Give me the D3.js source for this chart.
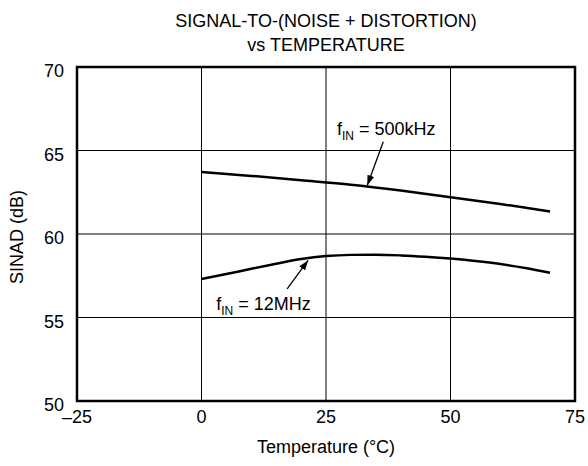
<!DOCTYPE html>
<html>
<head>
<meta charset="utf-8">
<script src="https://cdn.jsdelivr.net/npm/d3@7"></script>
<style>
  body { margin: 0; background: #fff; }
  svg { font-family: "Liberation Sans", Arial, sans-serif; }
</style>
</head>
<body>
<div id="chart"></div>
<script>
const xTicks = [-25, 0, 25, 50, 75];
const xTickLabels = ["\u201325", "0", "25", "50", "75"];
const yTicks = [50, 55, 60, 65, 70];

const temps500k = [0, 10, 20, 30, 40, 50, 60, 70];
const sinad500k = [63.72, 63.48, 63.22, 62.95, 62.6, 62.2, 61.8, 61.35];

const temps12M = [0, 5, 10, 15, 20, 25, 30, 35, 40, 45, 50, 55, 60, 65, 70];
const sinad12M = [57.3, 57.6, 57.92, 58.22, 58.5, 58.68, 58.75, 58.76, 58.72, 58.64, 58.53, 58.38, 58.2, 57.97, 57.68];

const width = 588, height = 466;
const margin = {top: 67, right: 13, bottom: 65, left: 77};

const x = d3.scaleLinear()
    .domain([-25, 75])
    .range([margin.left, width - margin.right]);

const y = d3.scaleLinear()
    .domain([50, 70])
    .range([height - margin.bottom, margin.top]);

const svg = d3.select("#chart")
    .append("svg")
    .attr("width", width)
    .attr("height", height);

const defs = svg.append("defs");
defs.append("marker")
    .attr("id", "arrow")
    .attr("viewBox", "0 0 10 10")
    .attr("refX", 10)
    .attr("refY", 5)
    .attr("markerWidth", 10)
    .attr("markerHeight", 10)
    .attr("markerUnits", "userSpaceOnUse")
    .attr("orient", "auto")
  .append("path")
    .attr("d", "M0,1.5 L10,5 L0,8.5 Z")
    .attr("fill", "#000");

// grid
svg.append("g")
  .selectAll("line")
  .data(xTicks.slice(1, -1))
  .join("line")
    .attr("x1", d => x(d)).attr("x2", d => x(d))
    .attr("y1", y(50)).attr("y2", y(70))
    .attr("stroke", "#000").attr("stroke-width", 1);

svg.append("g")
  .selectAll("line")
  .data(yTicks.slice(1, -1))
  .join("line")
    .attr("x1", x(-25)).attr("x2", x(75))
    .attr("y1", d => y(d)).attr("y2", d => y(d))
    .attr("stroke", "#000").attr("stroke-width", 1);

// frame
svg.append("rect")
    .attr("x", x(-25))
    .attr("y", y(70))
    .attr("width", x(75) - x(-25))
    .attr("height", y(50) - y(70))
    .attr("fill", "none")
    .attr("stroke", "#000")
    .attr("stroke-width", 2.5);

// tick labels
svg.append("g")
    .attr("font-size", 18)
    .attr("text-anchor", "middle")
  .selectAll("text")
  .data(xTicks)
  .join("text")
    .attr("x", d => x(d))
    .attr("y", y(50) + 22)
    .text((d, i) => xTickLabels[i]);

svg.append("g")
    .attr("font-size", 18)
    .attr("text-anchor", "end")
  .selectAll("text")
  .data(yTicks)
  .join("text")
    .attr("x", x(-25) - 13)
    .attr("y", d => y(d) + 10)
    .text(d => d);

// axis titles
svg.append("text")
    .attr("x", (x(-25) + x(75)) / 2)
    .attr("y", 453)
    .attr("font-size", 18)
    .attr("text-anchor", "middle")
    .text("Temperature (\u00B0C)");

svg.append("text")
    .attr("transform", `translate(23, ${(y(50) + y(70)) / 2 + 3}) rotate(-90)`)
    .attr("font-size", 18)
    .attr("text-anchor", "middle")
    .text("SINAD (dB)");

// title
const title = svg.append("text")
    .attr("font-size", 18)
    .attr("text-anchor", "middle");
title.append("tspan")
    .attr("x", (x(-25) + x(75)) / 2).attr("y", 27)
    .text("SIGNAL-TO-(NOISE + DISTORTION)");
title.append("tspan")
    .attr("x", (x(-25) + x(75)) / 2).attr("y", 51)
    .text("vs TEMPERATURE");

// curves
const line = d3.line()
    .x(d => x(d[0]))
    .y(d => y(d[1]))
    .curve(d3.curveMonotoneX);

svg.append("path")
    .datum(d3.zip(temps500k, sinad500k))
    .attr("d", line)
    .attr("fill", "none")
    .attr("stroke", "#000")
    .attr("stroke-width", 2.5);

svg.append("path")
    .datum(d3.zip(temps12M, sinad12M))
    .attr("d", line)
    .attr("fill", "none")
    .attr("stroke", "#000")
    .attr("stroke-width", 2.5);

// annotations
function label(tx, ty, freq) {
  const t = svg.append("text")
      .attr("x", x(tx))
      .attr("y", y(ty))
      .attr("font-size", 18);
  t.append("tspan").text("f");
  t.append("tspan").attr("font-size", 12).attr("dy", 5).text("IN");
  t.append("tspan").attr("dy", -5).text(" = " + freq);
}

function arrow(t0, v0, t1, v1) {
  svg.append("line")
      .attr("x1", x(t0)).attr("y1", y(v0))
      .attr("x2", x(t1)).attr("y2", y(v1))
      .attr("stroke", "#000")
      .attr("stroke-width", 1.3)
      .attr("marker-end", "url(#arrow)");
}

label(27.2, 65.93, "500kHz");
arrow(36.5, 65.52, 33.3, 62.92);

label(2.96, 55.47, "12MHz");
arrow(17.2, 56.72, 21.4, 58.42);
</script>
</body>
</html>
